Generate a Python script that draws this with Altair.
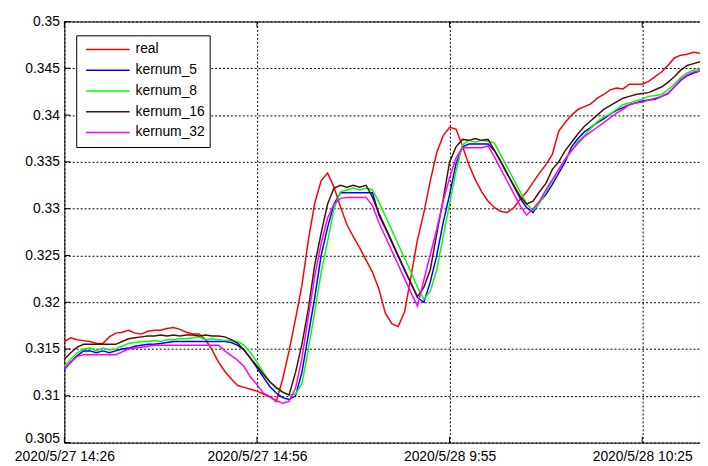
import altair as alt
import pandas as pd

# ---- data ----
series_names = ["real", "kernum_5", "kernum_8", "kernum_16", "kernum_32"]
series_colors = ["#ff0000", "#0000ff", "#00ff00", "#4d1005", "#ff00ff"]

x_tick_values = [0, 30, 60, 90]
x_tick_labels = ["2020/5/27 14:26", "2020/5/27 14:56", "2020/5/28 9:55", "2020/5/28 10:25"]
y_tick_values = [0.305, 0.31, 0.315, 0.32, 0.325, 0.33, 0.335, 0.34, 0.345, 0.35]

real = [0.3158, 0.3162, 0.3160, 0.3159, 0.3158, 0.3156, 0.3156, 0.3163, 0.3167, 0.3168,
        0.3170, 0.3167, 0.3166, 0.3169, 0.3170, 0.3170, 0.3172, 0.3173, 0.3171, 0.3168,
        0.3166, 0.3166, 0.3160, 0.3149, 0.3136, 0.3126, 0.3118, 0.3111, 0.3109, 0.3107,
        0.3105, 0.3102, 0.3099, 0.3094, 0.3118, 0.3148, 0.3182, 0.3218, 0.3266, 0.3306,
        0.3330, 0.3338, 0.3323, 0.3302, 0.3283, 0.3270, 0.3258, 0.3245, 0.3232, 0.3214,
        0.3188, 0.3177, 0.3174, 0.3190, 0.3228, 0.3267, 0.3296, 0.3330, 0.3360, 0.3378,
        0.3387, 0.3385, 0.3367, 0.3347, 0.3331, 0.3318, 0.3308, 0.3301, 0.3297, 0.3296,
        0.3301, 0.3310, 0.3318, 0.3328, 0.3338, 0.3347, 0.3358, 0.3383, 0.3392, 0.3400,
        0.3406, 0.3409, 0.3412, 0.3418, 0.3422, 0.3427, 0.3429, 0.3428, 0.3433, 0.3433,
        0.3433, 0.3436, 0.3441, 0.3446, 0.3453, 0.3461, 0.3464, 0.3465, 0.3467, 0.3466]

kernum_5 = [0.3128, 0.3136, 0.3143, 0.3148, 0.3148, 0.3146, 0.3148, 0.3146, 0.3148, 0.3150,
            0.3151, 0.3153, 0.3154, 0.3155, 0.3155, 0.3156, 0.3157, 0.3158, 0.3158, 0.3158,
            0.3158, 0.3158, 0.3158, 0.3158, 0.3158, 0.3158, 0.3157, 0.3154, 0.3149, 0.3140,
            0.3130, 0.3120, 0.3110, 0.3103, 0.3098, 0.3096, 0.3100, 0.3125, 0.3165, 0.3205,
            0.3250, 0.3280, 0.3305, 0.3317, 0.3317, 0.3317, 0.3317, 0.3317, 0.3317, 0.3293,
            0.3279, 0.3264, 0.3249, 0.3234, 0.3220, 0.3205, 0.3200, 0.3222, 0.3250, 0.3285,
            0.3315, 0.3348, 0.3366, 0.3369, 0.3369, 0.3369, 0.3369, 0.3362, 0.3350, 0.3337,
            0.3324, 0.3311, 0.3301, 0.3296, 0.3307, 0.3315, 0.3326, 0.3338, 0.3350, 0.3366,
            0.3375, 0.3382, 0.3387, 0.3392, 0.3396, 0.3401, 0.3405, 0.3408, 0.3411, 0.3413,
            0.3415, 0.3416, 0.3417, 0.3420, 0.3423, 0.3430, 0.3437, 0.3442, 0.3445, 0.3447]

kernum_8 = [0.3131, 0.3139, 0.3146, 0.3150, 0.3151, 0.3148, 0.3151, 0.3149, 0.3150, 0.3153,
            0.3156, 0.3157, 0.3158, 0.3158, 0.3159, 0.3158, 0.3160, 0.3160, 0.3161, 0.3161,
            0.3162, 0.3163, 0.3160, 0.3161, 0.3160, 0.3159, 0.3159, 0.3158, 0.3154, 0.3146,
            0.3136, 0.3125, 0.3115, 0.3108, 0.3104, 0.3101, 0.3102, 0.3113, 0.3150, 0.3190,
            0.3232, 0.3265, 0.3300, 0.3318, 0.3320, 0.3322, 0.3320, 0.3322, 0.3320, 0.3307,
            0.3292, 0.3277, 0.3262, 0.3247, 0.3232, 0.3216, 0.3203, 0.3212, 0.3235, 0.3270,
            0.3305, 0.3340, 0.3368, 0.3373, 0.3371, 0.3373, 0.3372, 0.3370, 0.3357, 0.3344,
            0.3331, 0.3318, 0.3305, 0.3298, 0.3306, 0.3318, 0.3330, 0.3342, 0.3353, 0.3362,
            0.3372, 0.3378, 0.3386, 0.3393, 0.3398, 0.3401, 0.3406, 0.3411, 0.3413, 0.3415,
            0.3417, 0.3420, 0.3421, 0.3422, 0.3427, 0.3433, 0.3440, 0.3445, 0.3448, 0.3449]

kernum_16 = [0.3139, 0.3146, 0.3152, 0.3155, 0.3155, 0.3155, 0.3155, 0.3155, 0.3155, 0.3158,
             0.3161, 0.3162, 0.3163, 0.3164, 0.3164, 0.3165, 0.3164, 0.3165, 0.3164, 0.3165,
             0.3165, 0.3164, 0.3165, 0.3164, 0.3164, 0.3163, 0.3160, 0.3156, 0.3149, 0.3140,
             0.3132, 0.3123, 0.3115, 0.3109, 0.3104, 0.3101, 0.3125, 0.3155, 0.3193, 0.3240,
             0.3274, 0.3305, 0.3322, 0.3325, 0.3323, 0.3325, 0.3323, 0.3325, 0.3312, 0.3295,
             0.3280, 0.3265, 0.3250, 0.3235, 0.3220, 0.3206, 0.3216, 0.3235, 0.3273, 0.3310,
             0.3350, 0.3366, 0.3374, 0.3373, 0.3375, 0.3373, 0.3374, 0.3362, 0.3350, 0.3337,
             0.3325, 0.3313, 0.3305, 0.3308, 0.3318, 0.3327, 0.3342, 0.3350, 0.3362, 0.3371,
             0.3380, 0.3388, 0.3394, 0.3400, 0.3406, 0.3410, 0.3414, 0.3418, 0.3420, 0.3422,
             0.3423, 0.3424, 0.3427, 0.3430, 0.3435, 0.3441, 0.3448, 0.3453, 0.3455, 0.3457]

kernum_32 = [0.3129, 0.3136, 0.3142, 0.3144, 0.3144, 0.3144, 0.3144, 0.3144, 0.3144, 0.3147,
             0.3150, 0.3151, 0.3152, 0.3153, 0.3154, 0.3154, 0.3154, 0.3154, 0.3154, 0.3154,
             0.3154, 0.3154, 0.3154, 0.3154, 0.3154, 0.3148, 0.3143, 0.3138, 0.3131, 0.3120,
             0.3112, 0.3103, 0.3099, 0.3095, 0.3092, 0.3094, 0.3108, 0.3140, 0.3185, 0.3228,
             0.3263, 0.3290, 0.3305, 0.3311, 0.3312, 0.3312, 0.3312, 0.3312, 0.3303, 0.3285,
             0.3270, 0.3255, 0.3240, 0.3225, 0.3210, 0.3196, 0.3224, 0.3251, 0.3278, 0.3308,
             0.3333, 0.3354, 0.3365, 0.3365, 0.3365, 0.3365, 0.3367, 0.3355, 0.3342, 0.3329,
             0.3316, 0.3303, 0.3293, 0.3300, 0.3308, 0.3320, 0.3331, 0.3342, 0.3353, 0.3362,
             0.3370, 0.3377, 0.3382, 0.3387, 0.3392, 0.3397, 0.3402, 0.3406, 0.3411, 0.3413,
             0.3414, 0.3416, 0.3418, 0.3420, 0.3423, 0.3430, 0.3438, 0.3443, 0.3446, 0.3447]

# ---- build long table ----
all_series = [real, kernum_5, kernum_8, kernum_16, kernum_32]
rows = []
for name, vals in zip(series_names, all_series):
    for i, v in enumerate(vals):
        rows.append({"t": i, "v": v, "series": name})
df = pd.DataFrame(rows)

xt = pd.DataFrame({"t": x_tick_values})
yt = pd.DataFrame({"v": y_tick_values})

FONT = "Liberation Sans"
W, H = 643, 426

labels_js = "[" + ",".join("'" + s + "'" for s in x_tick_labels) + "]"
vals_js = "[" + ",".join(str(v) for v in x_tick_values) + "]"

ax_x = alt.Axis(values=x_tick_values, labelExpr=f"{labels_js}[indexof({vals_js}, datum.value)]",
                title=None, grid=True, gridColor="black", gridDash=[2, 2], gridOpacity=1,
                ticks=False, domain=False, labelFont=FONT, labelFontSize=14, labelColor="black",
                labelPadding=7, labelFlush=False, labelOverlap=False)
ax_y = alt.Axis(values=y_tick_values, format=".3~f", title=None, grid=True, gridColor="black",
                gridDash=[2, 2], gridOpacity=1, ticks=False, domain=False, labelFont=FONT,
                labelFontSize=14, labelColor="black", labelPadding=5, labelFlush=False,
                labelOverlap=False,
                labelBaseline=alt.ExprRef(expr="datum.value < 0.306 ? 'alphabetic' : 'middle'"))

xs = alt.Scale(domain=[0, 99], nice=False, zero=False)
ys = alt.Scale(domain=[0.305, 0.35], nice=False, zero=False)

lines = alt.Chart(df).mark_line(strokeWidth=1.5).encode(
    x=alt.X("t:Q", scale=xs, axis=ax_x),
    y=alt.Y("v:Q", scale=ys, axis=ax_y),
    color=alt.Color("series:N", sort=series_names,
                    scale=alt.Scale(domain=series_names, range=series_colors),
                    legend=alt.Legend(title=None, orient="none", legendX=12, legendY=14,
                                      strokeColor="black", fillColor="white", padding=4,
                                      symbolType="stroke", symbolSize=1936,
                                      symbolStrokeWidth=1.5, labelFont=FONT,
                                      labelFontSize=14, labelColor="black",
                                      clipHeight=20.5, rowPadding=0, symbolOffset=5,
                                      labelOffset=5)),
    detail="series:N",
)

left_ticks = alt.Chart(yt).mark_rule(color="black", strokeWidth=1).encode(
    y=alt.Y("v:Q", scale=ys, axis=ax_y), x=alt.value(0), x2=alt.value(6))
bottom_ticks = alt.Chart(xt).mark_rule(color="black", strokeWidth=1).encode(
    x=alt.X("t:Q", scale=xs, axis=ax_x), y=alt.value(H), y2=alt.value(H - 6))
top_ticks = alt.Chart(xt).mark_rule(color="black", strokeWidth=1).encode(
    x=alt.X("t:Q", scale=xs, axis=ax_x), y=alt.value(0), y2=alt.value(6))

chart = alt.layer(lines, left_ticks, bottom_ticks, top_ticks).properties(
    width=W, height=H,
    autosize=alt.AutoSizeParams(type="none"),
    padding={"left": 57, "top": 11, "right": 0, "bottom": 20},
    background="white",
).configure_view(stroke="black", strokeWidth=1)

chart.save("out.html", embed_options={"renderer": "svg", "actions": False})
